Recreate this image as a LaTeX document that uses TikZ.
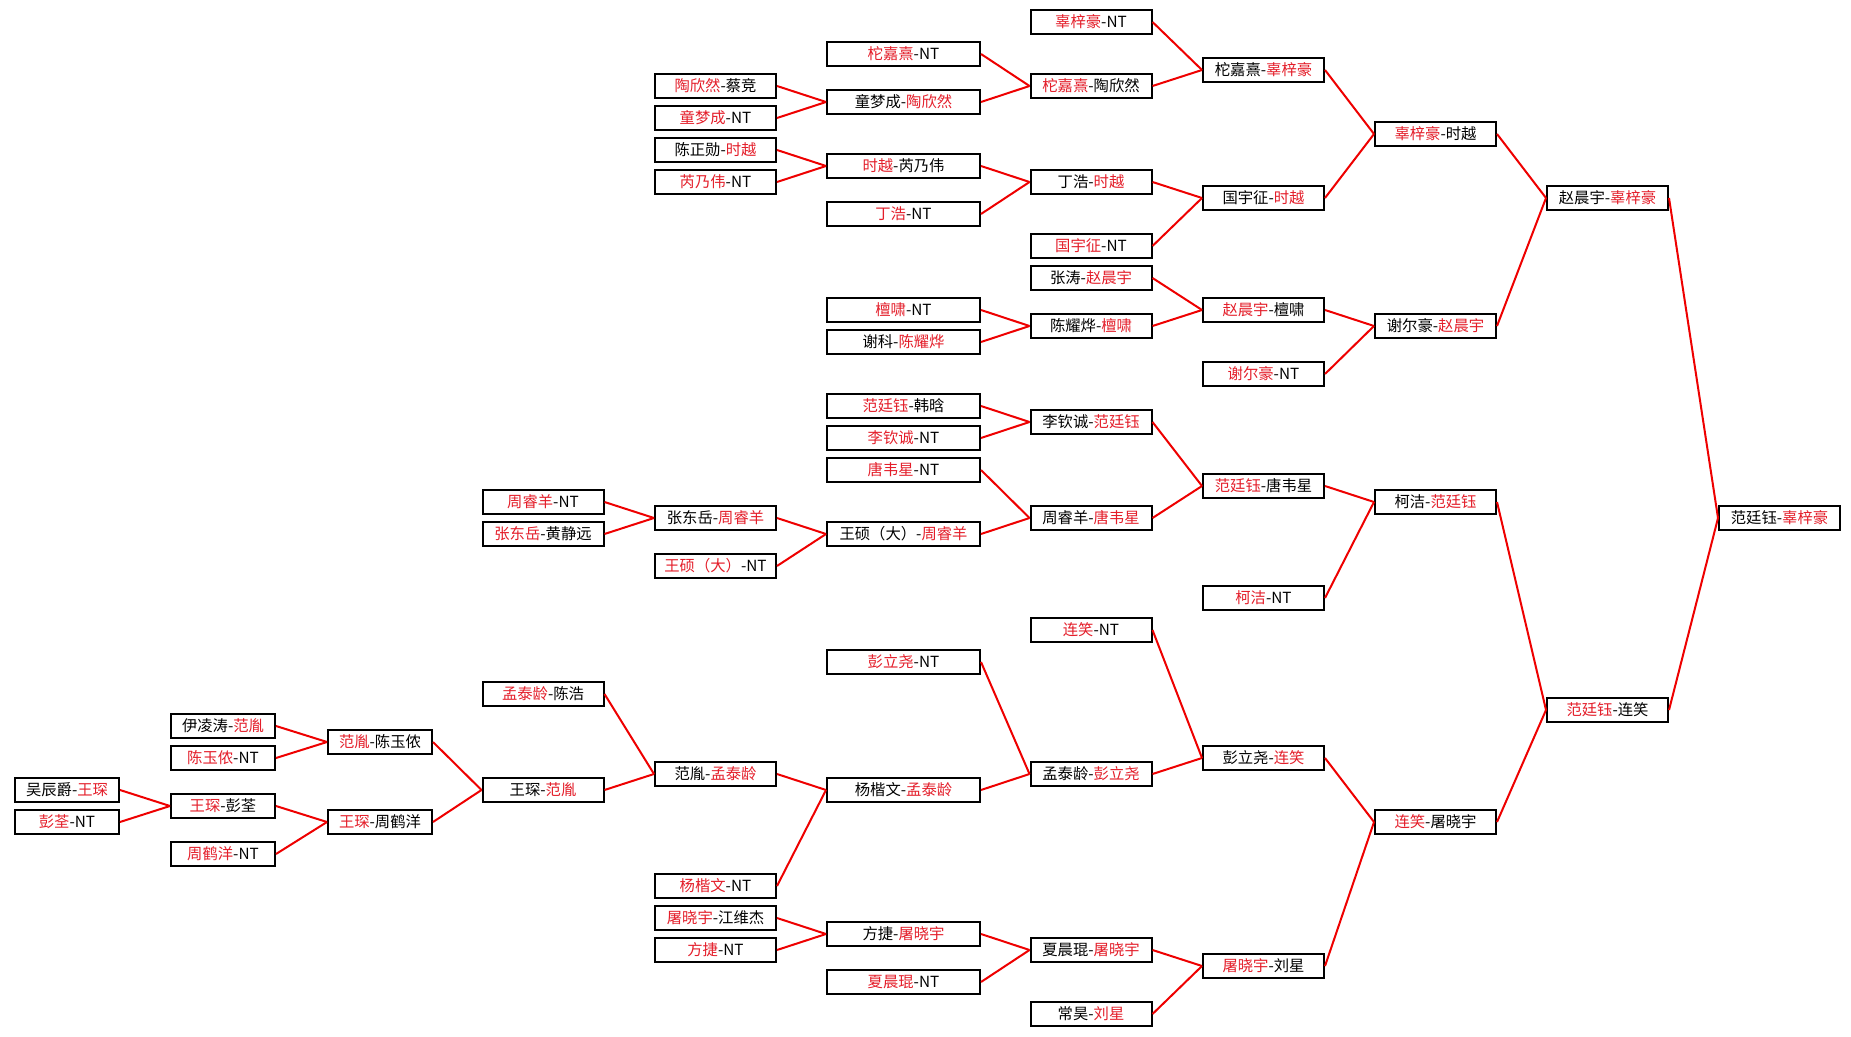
\documentclass[tikz,border=0pt]{standalone}
\usepackage{fontspec}
\newfontfamily\cjk{Noto Sans CJK SC}
\definecolor{wred}{RGB}{228,30,42}
\definecolor{lred}{RGB}{238,0,0}
\newcommand{\wn}[1]{\textcolor{wred}{#1}}
\tikzset{pb/.append style={draw,rectangle,fill=white,line width=1.5pt,minimum height=18pt,inner sep=0pt,font=\cjk\fontsize{11.5}{13}\selectfont}}
\tikzset{nw/.append style={minimum width=78pt}}
\tikzset{mw/.append style={minimum width=90.75pt}}
\tikzset{ww/.append style={minimum width=114.75pt}}
\tikzset{ln/.append style={draw=lred,line width=1.5pt}}

\begin{document}
\begin{tikzpicture}[x=0.75pt,y=-12pt]
                \useasboundingbox (0,-1.375) rectangle (1851,63.4375);
                % first rounds, left side
                \node[pb,nw] (a1) at (67,48) {吴辰爵-\wn{王琛}};
                \node[pb,nw] (a2) at (67,50) {\wn{彭荃}-NT};
                \node[pb,nw] (b1) at (223,44) {伊凌涛-\wn{范胤}};
                \node[pb,nw] (b2) at (223,46) {\wn{陈玉侬}-NT};
                \node[pb,nw] (b3) at (223,49) {\wn{王琛}-彭荃};
                \node[pb,nw] (b4) at (223,52) {\wn{周鹤洋}-NT};
                \node[pb,nw] (c1) at (380,45) {\wn{范胤}-陈玉侬};
                \node[pb,nw] (c2) at (380,50) {\wn{王琛}-周鹤洋};
                \node[pb,mw] (d1) at (543,30) {\wn{周睿羊}-NT};
                \node[pb,mw] (d2) at (543,32) {\wn{张东岳}-黄静远};
                \node[pb,mw] (d3) at (543,42) {\wn{孟泰龄}-陈浩};
                \node[pb,mw] (d4) at (543,48) {王琛-\wn{范胤}};
                % e column
                \node[pb,mw] (e1) at (715.5,4) {\wn{陶欣然}-蔡竞};
                \node[pb,mw] (e2) at (715.5,6) {\wn{童梦成}-NT};
                \node[pb,mw] (e3) at (715.5,8) {陈正勋-\wn{时越}};
                \node[pb,mw] (e4) at (715.5,10) {\wn{芮乃伟}-NT};
                \node[pb,mw] (e5) at (715.5,31) {张东岳-\wn{周睿羊}};
                \node[pb,mw] (e6) at (715.5,34) {\wn{王硕（大）}-NT};
                \node[pb,mw] (e7) at (715.5,47) {范胤-\wn{孟泰龄}};
                \node[pb,mw] (e8) at (715.5,54) {\wn{杨楷文}-NT};
                \node[pb,mw] (e9) at (715.5,56) {\wn{屠晓宇}-江维杰};
                \node[pb,mw] (e10) at (715.5,58) {\wn{方捷}-NT};
                % f column
                \node[pb,ww] (f1) at (903.5,2) {\wn{柁嘉熹}-NT};
                \node[pb,ww] (f2) at (903.5,5) {童梦成-\wn{陶欣然}};
                \node[pb,ww] (f3) at (903.5,9) {\wn{时越}-芮乃伟};
                \node[pb,ww] (f4) at (903.5,12) {\wn{丁浩}-NT};
                \node[pb,ww] (f5) at (903.5,18) {\wn{檀啸}-NT};
                \node[pb,ww] (f6) at (903.5,20) {谢科-\wn{陈耀烨}};
                \node[pb,ww] (f7) at (903.5,24) {\wn{范廷钰}-韩晗};
                \node[pb,ww] (f8) at (903.5,26) {\wn{李钦诚}-NT};
                \node[pb,ww] (f9) at (903.5,28) {\wn{唐韦星}-NT};
                \node[pb,ww] (f10) at (903.5,32) {王硕（大）-\wn{周睿羊}};
                \node[pb,ww] (f11) at (903.5,40) {\wn{彭立尧}-NT};
                \node[pb,ww] (f12) at (903.5,48) {杨楷文-\wn{孟泰龄}};
                \node[pb,ww] (f13) at (903.5,57) {方捷-\wn{屠晓宇}};
                \node[pb,ww] (f14) at (903.5,60) {\wn{夏晨琨}-NT};
                % g column
                \node[pb,mw] (g1) at (1091,0) {\wn{辜梓豪}-NT};
                \node[pb,mw] (g2) at (1091,4) {\wn{柁嘉熹}-陶欣然};
                \node[pb,mw] (g3) at (1091,10) {丁浩-\wn{时越}};
                \node[pb,mw] (g4) at (1091,14) {\wn{国宇征}-NT};
                \node[pb,mw] (g5) at (1091,16) {张涛-\wn{赵晨宇}};
                \node[pb,mw] (g6) at (1091,19) {陈耀烨-\wn{檀啸}};
                \node[pb,mw] (g7) at (1091,25) {李钦诚-\wn{范廷钰}};
                \node[pb,mw] (g8) at (1091,31) {周睿羊-\wn{唐韦星}};
                \node[pb,mw] (g9) at (1091,38) {\wn{连笑}-NT};
                \node[pb,mw] (g10) at (1091,47) {孟泰龄-\wn{彭立尧}};
                \node[pb,mw] (g11) at (1091,58) {夏晨琨-\wn{屠晓宇}};
                \node[pb,mw] (g12) at (1091,62) {常昊-\wn{刘星}};
                % later rounds
                \node[pb,mw] (h1) at (1263.5,3) {柁嘉熹-\wn{辜梓豪}};
                \node[pb,mw] (h2) at (1263.5,11) {国宇征-\wn{时越}};
                \node[pb,mw] (h3) at (1263.5,18) {\wn{赵晨宇}-檀啸};
                \node[pb,mw] (h4) at (1263.5,22) {\wn{谢尔豪}-NT};
                \node[pb,mw] (h5) at (1263.5,29) {\wn{范廷钰}-唐韦星};
                \node[pb,mw] (h6) at (1263.5,36) {\wn{柯洁}-NT};
                \node[pb,mw] (h7) at (1263.5,46) {彭立尧-\wn{连笑}};
                \node[pb,mw] (h8) at (1263.5,59) {\wn{屠晓宇}-刘星};
                \node[pb,mw] (i1) at (1435.5,7) {\wn{辜梓豪}-时越};
                \node[pb,mw] (i2) at (1435.5,19) {谢尔豪-\wn{赵晨宇}};
                \node[pb,mw] (i3) at (1435.5,30) {柯洁-\wn{范廷钰}};
                \node[pb,mw] (i4) at (1435.5,50) {\wn{连笑}-屠晓宇};
                \node[pb,mw] (j1) at (1607.5,11) {赵晨宇-\wn{辜梓豪}};
                \node[pb,mw] (j2) at (1607.5,43) {\wn{范廷钰}-连笑};
                \node[pb,mw] (k) at (1779.5,31) {范廷钰-\wn{辜梓豪}};
                % connectors
                \path (b3.west) edge[ln] (a1.east) edge[ln] (a2.east);
                \path (c1.west) edge[ln] (b1.east) edge[ln] (b2.east);
                \path (c2.west) edge[ln] (b3.east) edge[ln] (b4.east);
                \path (d4.west) edge[ln] (c1.east) edge[ln] (c2.east);
                \path (e5.west) edge[ln] (d1.east) edge[ln] (d2.east);
                \path (e7.west) edge[ln] (d3.east) edge[ln] (d4.east);
                \path (f2.west) edge[ln] (e1.east) edge[ln] (e2.east);
                \path (f3.west) edge[ln] (e3.east) edge[ln] (e4.east);
                \path (f10.west) edge[ln] (e5.east) edge[ln] (e6.east);
                \path (f12.west) edge[ln] (e7.east) edge[ln] (e8.east);
                \path (f13.west) edge[ln] (e9.east) edge[ln] (e10.east);
                \path (g2.west) edge[ln] (f1.east) edge[ln] (f2.east);
                \path (g3.west) edge[ln] (f3.east) edge[ln] (f4.east);
                \path (g6.west) edge[ln] (f5.east) edge[ln] (f6.east);
                \path (g7.west) edge[ln] (f7.east) edge[ln] (f8.east);
                \path (g8.west) edge[ln] (f9.east) edge[ln] (f10.east);
                \path (g10.west) edge[ln] (f11.east) edge[ln] (f12.east);
                \path (g11.west) edge[ln] (f13.east) edge[ln] (f14.east);
                \path (h1.west) edge[ln] (g1.east) edge[ln] (g2.east);
                \path (h2.west) edge[ln] (g3.east) edge[ln] (g4.east);
                \path (h3.west) edge[ln] (g5.east) edge[ln] (g6.east);
                \path (h5.west) edge[ln] (g7.east) edge[ln] (g8.east);
                \path (h7.west) edge[ln] (g9.east) edge[ln] (g10.east);
                \path (h8.west) edge[ln] (g11.east) edge[ln] (g12.east);
                \path (i1.west) edge[ln] (h1.east) edge[ln] (h2.east);
                \path (i2.west) edge[ln] (h3.east) edge[ln] (h4.east);
                \path (i3.west) edge[ln] (h5.east) edge[ln] (h6.east);
                \path (i4.west) edge[ln] (h7.east) edge[ln] (h8.east);
                \path (j1.west) edge[ln] (i1.east) edge[ln] (i2.east);
                \path (j2.west) edge[ln] (i3.east) edge[ln] (i4.east);
                \path (k.west) edge[ln] (j1.east) edge[ln] (j2.east);
            \end{tikzpicture}
\end{document}
